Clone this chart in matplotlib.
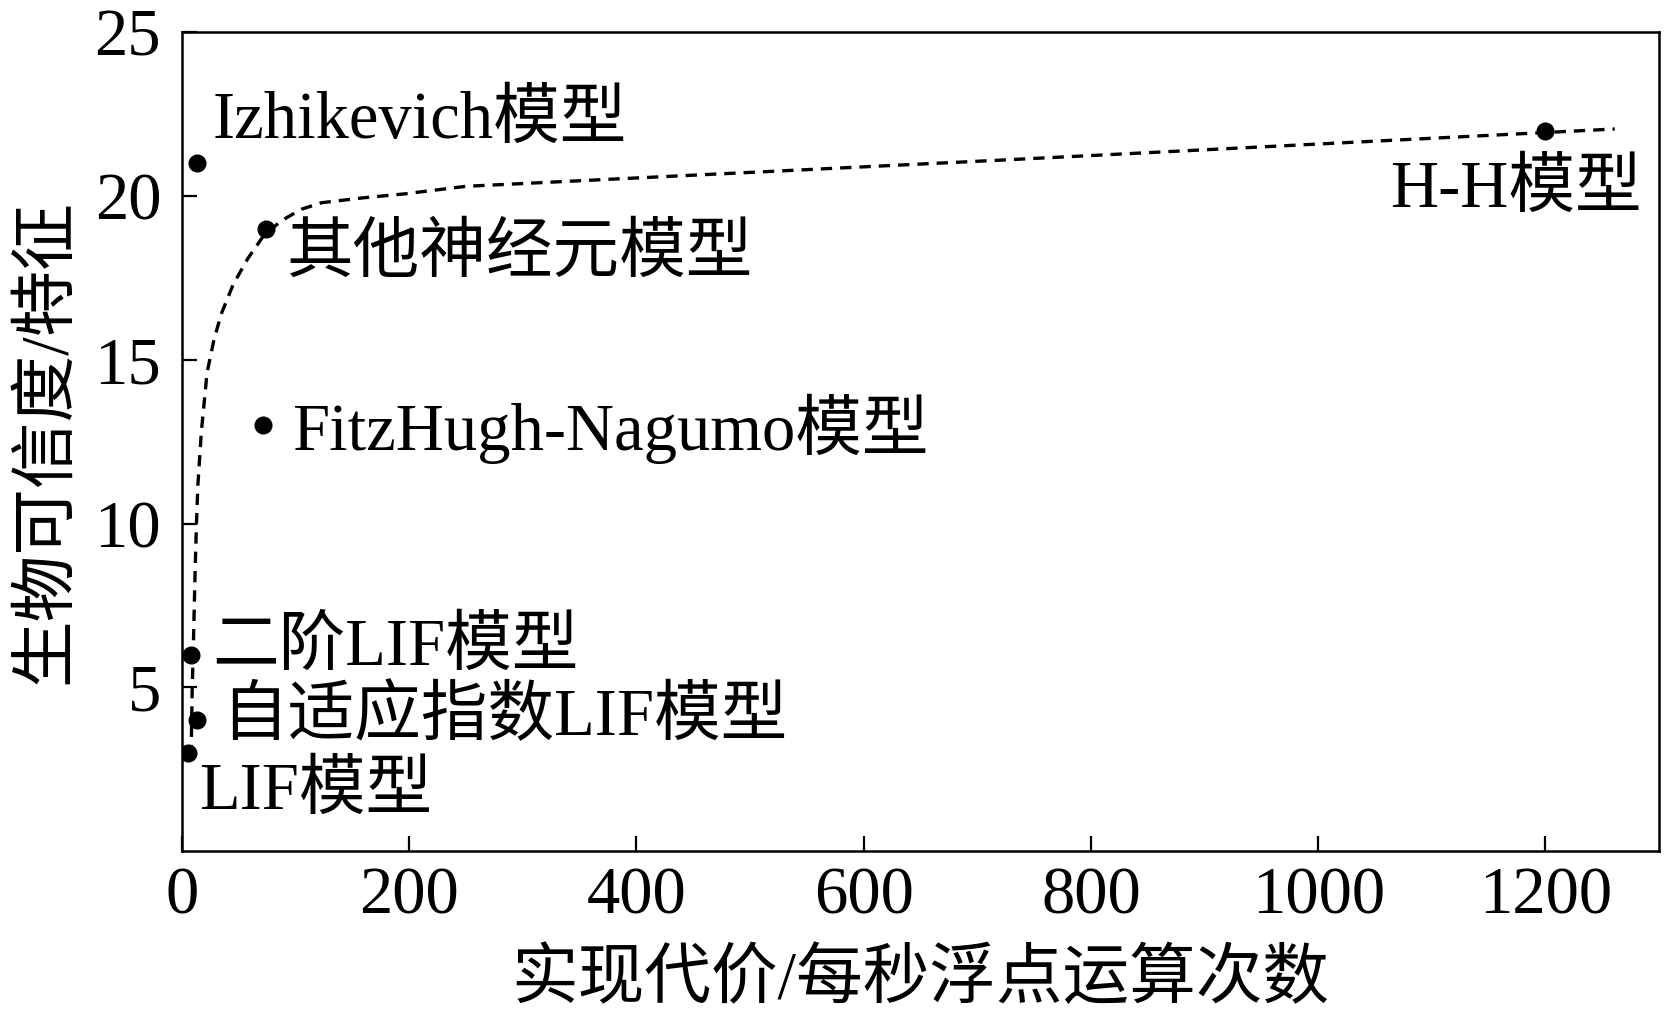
import numpy as np
import matplotlib
matplotlib.use("Agg")
import matplotlib.pyplot as plt

# fonts: serif latin, CJK fallback
plt.rcParams['font.family'] = ['Liberation Serif', 'Noto Sans CJK SC', 'DejaVu Sans']
plt.rcParams['axes.unicode_minus'] = False

# model points (cost, fidelity)
model_names = ["Izhikevich模型", "其他神经元模型", "FitzHugh-Nagumo模型",
               "二阶LIF模型", "自适应指数LIF模型", "LIF模型", "H-H模型"]
model_cost = [13, 74, 71, 7.5, 13, 5, 1200]
model_fidelity = [21, 19, 13, 6, 4, 3, 22]

# label anchor positions (data units) and horizontal alignment
label_x = [26.8, 92, 97, 26.6, 34, 15, 1285]
label_y = [22.3, 18.2, 12.9, 6.2, 4.06, 1.8, 20.18]
label_ha = ["left", "left", "left", "left", "left", "left", "right"]

# dashed trend curve
curve_x = [8, 9, 10, 11.5, 12.7, 14, 17, 22, 28, 34.5, 45, 58, 72, 87.5,
           105, 123, 160, 196, 250, 721, 1261]
curve_y = [2.9, 5.0, 6.3, 8.5, 10.0, 11.2, 12.8, 14.6, 15.6, 16.4, 17.3, 18.1,
           18.8, 19.25, 19.6, 19.8, 19.95, 20.07, 20.3, 21.1, 22.05]

xticks = [0, 200, 400, 600, 800, 1000, 1200]
yticks = [5, 10, 15, 20, 25]

fs = 48

fig = plt.figure(figsize=(16.76, 10.11), dpi=100)
ax = fig.add_axes([0.1086, 0.158, 0.8813, 0.810])

ax.plot(curve_x, curve_y, color="black", linewidth=2.4, linestyle=(0, (3.4, 2.4)))
ax.plot(model_cost, model_fidelity, "o", color="black", markersize=12, linestyle="none")

for name, lx, ly, ha in zip(model_names, label_x, label_y, label_ha):
    ax.text(lx, ly, name, fontsize=fs, ha=ha, va="center")

ax.set_xlim(0, 1300)
ax.set_ylim(0, 25)
ax.set_xticks(xticks)
ax.set_yticks(yticks)
ax.tick_params(axis="both", direction="in", length=11, width=1.6,
               labelsize=fs, top=False, right=False)
ax.tick_params(axis="x", pad=11)
ax.tick_params(axis="y", pad=15)
for sp in ax.spines.values():
    sp.set_linewidth(1.8)

ax.set_xlabel("实现代价/每秒浮点运算次数", fontsize=fs, labelpad=16)
ax.set_ylabel("生物可信度/特征", fontsize=fs, labelpad=12)

fig.savefig("out.png", dpi=100)
